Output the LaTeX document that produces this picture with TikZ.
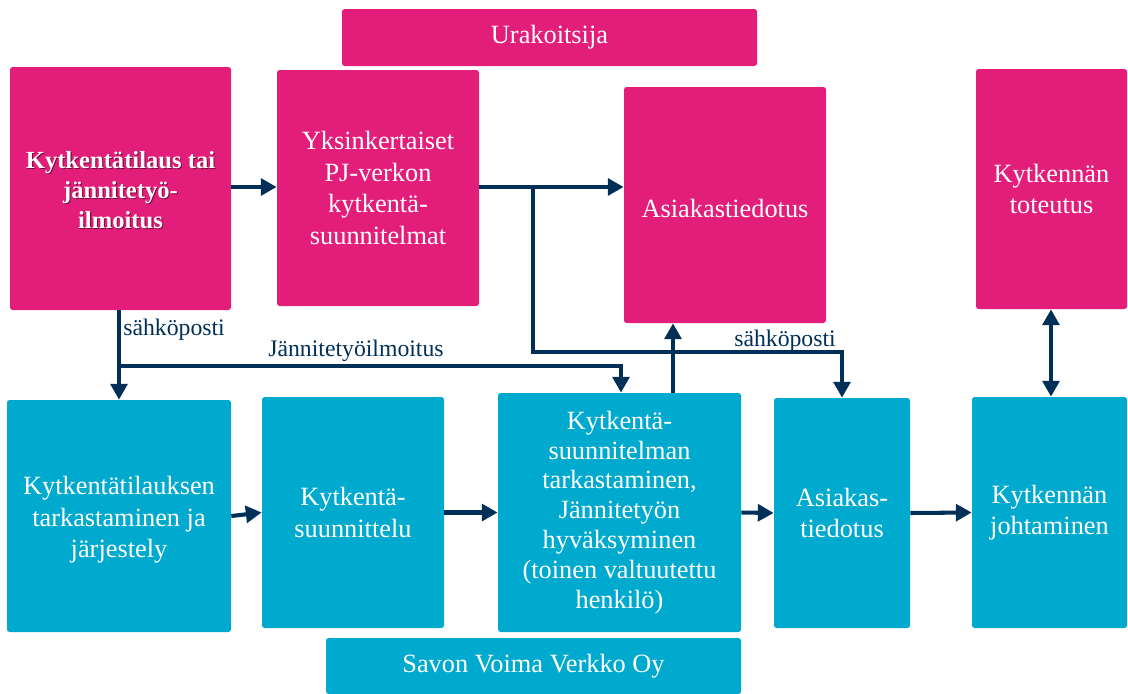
\documentclass[tikz,border=0pt]{standalone}
\usepackage{fontspec}
\setmainfont{Liberation Serif}
\usetikzlibrary{arrows.meta,calc}
\definecolor{mag}{RGB}{226,30,122}
\definecolor{magdark}{RGB}{120,10,60}
\definecolor{cyn}{RGB}{0,169,206}
\definecolor{navy}{RGB}{0,48,87}
\tikzset{
  box/.style={draw=none, rounded corners=1.5pt, inner sep=0pt, text=white,
    font=\fontsize{15}{18}\selectfont, align=center},
  mbox/.style={box, fill=mag},
  cbox/.style={box, fill=cyn},
  conn/.style={draw=navy, line width=2.3pt, -{Triangle[length=9pt,width=9.5pt]}},
  lbl/.style={text=navy, font=\fontsize{13.5}{16}\selectfont, inner sep=0pt}
}
\begin{document}
\begin{tikzpicture}[x=0.02cm,y=-0.02cm]
\useasboundingbox (0,0) rectangle (1128,693);
% top row (contractor)
\node[mbox, minimum width=415*0.02cm, minimum height=57*0.02cm] (ura) at (549.5,37.5) {Urakoitsija};
\node[mbox, minimum width=221*0.02cm, minimum height=243*0.02cm] (m1) at (120.5,188.5) {};
\node[text=magdark, font=\bfseries\fontsize{14}{17}\selectfont, align=center] (m1s) at ($(120.5,190)+(0.6pt,-0.6pt)$) {Kytkentätilaus tai\\jännitetyö-\\ilmoitus};
\node[text=white, font=\bfseries\fontsize{14}{17}\selectfont, align=center] (m1t) at (120.5,190) {Kytkentätilaus tai\\jännitetyö-\\ilmoitus};
\node[mbox, minimum width=202*0.02cm, minimum height=236*0.02cm] (m2) at (378,188) {Yksinkertaiset\\PJ-verkon\\kytkentä-\\suunnitelmat};
\node[mbox, minimum width=202*0.02cm, minimum height=236*0.02cm] (m3) at (725,205) {};
\node[text=white, font=\fontsize{15}{18}\selectfont] (m3t) at (725,208) {Asiakastiedotus};
\node[mbox, minimum width=151*0.02cm, minimum height=240*0.02cm] (m4) at (1051.5,189) {Kytkennän\\toteutus};
% bottom row (network company)
\node[cbox, minimum width=224*0.02cm, minimum height=232*0.02cm] (c1) at (119,516) {};
\node[text=white, align=center, font=\fontsize{15}{18}\selectfont] (c1t) at (119,520) {Kytkentätilauksen\\tarkastaminen ja\\järjestely};
\node[cbox, minimum width=182*0.02cm, minimum height=231*0.02cm] (c2) at (353,512.5) {Kytkentä-\\suunnittelu};
\node[cbox, minimum width=243*0.02cm, minimum height=239*0.02cm, font=\fontsize{15}{17}\selectfont] (c3) at (619.5,512.5) {Kytkentä-\\suunnitelman\\tarkastaminen,\\Jännitetyön\\hyväksyminen\\(toinen valtuutettu\\henkilö)};
\node[cbox, minimum width=136*0.02cm, minimum height=230*0.02cm] (c4) at (842,513) {Asiakas-\\tiedotus};
\node[cbox, minimum width=155*0.02cm, minimum height=231*0.02cm] (c5) at (1049.5,512.5) {Kytkennän\\johtaminen};
\node[cbox, minimum width=415*0.02cm, minimum height=56*0.02cm] (svv) at (533.5,666) {Savon Voima Verkko Oy};
% junction points
\coordinate (j1) at (533,187);
\coordinate (j2) at (119,366);
% connectors
\draw[conn] (m1.east |- 0,187) -- (m2.west |- 0,187);
\draw[conn] (m2.east |- 0,187) -- (m3.west |- 0,187);
\draw[conn] (j1) |- (842,352) -- (c4.north -| 842,0);
\draw[conn] (m1.south -| 119,0) -- (c1.north -| 119,0);
\draw[conn] (j2) -| (c3.north -| 621,0);
\draw[conn] (c3.north -| 673,0) -- (m3.south -| 673,0);
\draw[conn, {Triangle[length=9pt,width=9.5pt]}-{Triangle[length=9pt,width=9.5pt]}] (m4.south -| 1051,0) -- (c5.north -| 1051,0);
\draw[conn] (c1.east) -- (c2.west);
\draw[conn] (c2.east) -- (c3.west);
\draw[conn] (c3.east) -- (c4.west);
\draw[conn] (c4.east) -- (c5.west);
% labels
\node[lbl, anchor=west] (l1) at (123,330) {sähköposti};
\node[lbl] (l2) at (356,351) {Jännitetyöilmoitus};
\node[lbl] (l3) at (785,341) {sähköposti};
\end{tikzpicture}
\end{document}
